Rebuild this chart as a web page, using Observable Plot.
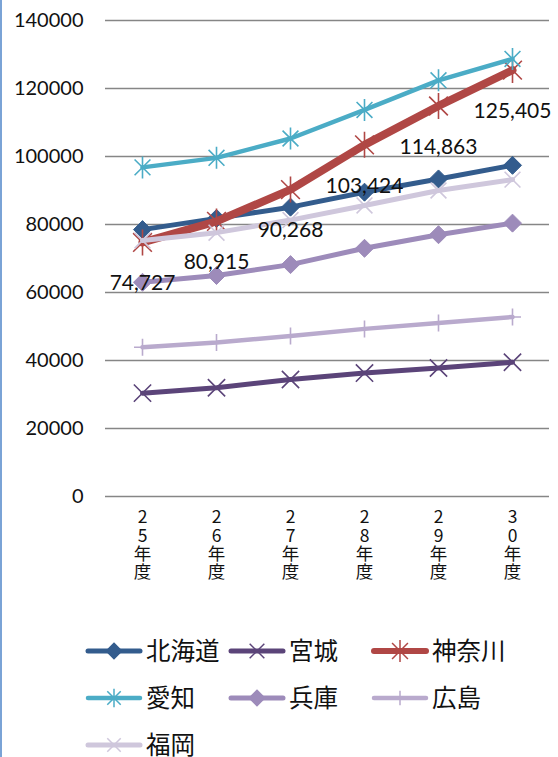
<!DOCTYPE html>
<html><head><meta charset="utf-8">
<script src="https://cdn.jsdelivr.net/npm/d3@7"></script>
<script src="https://cdn.jsdelivr.net/npm/@observablehq/plot@0.6"></script>
<style>
html,body{margin:0;padding:0;background:#fff;}
body{width:558px;height:757px;position:relative;overflow:hidden;}
#border{position:absolute;left:0;top:0;width:2px;height:757px;background:#7aa3d6;}
#chart{position:absolute;left:0;top:0;}
#legend{position:absolute;left:85px;top:627px;width:470px;display:flex;flex-wrap:wrap;}
.item{display:flex;align-items:center;width:143px;height:47px;}
.item svg{flex:none;}
.item span{font-family:"Noto Sans CJK JP";font-size:24.5px;color:#111;margin-left:3px;line-height:1;}
</style></head>
<body>
<div id="border"></div>
<div id="chart"></div>
<div id="legend"></div>
<script>
const categories = ["25年度","26年度","27年度","28年度","29年度","30年度"];
const seriesNames = ["北海道","宮城","神奈川","愛知","兵庫","広島","福岡"];
const hokkaido = [78500, 81800, 85100, 89500, 93400, 97400];
const miyagi   = [30400, 32000, 34400, 36300, 37800, 39500];
const kanagawa = [74727, 80915, 90268, 103424, 114863, 125405];
const aichi    = [96800, 99600, 105300, 113700, 122400, 128700];
const hyogo    = [63000, 65000, 68200, 73000, 77000, 80400];
const hiroshima= [43900, 45300, 47200, 49300, 51000, 52800];
const fukuoka  = [75300, 77600, 81300, 85600, 90000, 93200];
const seriesValues = [hokkaido, miyagi, kanagawa, aichi, hyogo, hiroshima, fukuoka];
const yTicks = [0, 20000, 40000, 60000, 80000, 100000, 120000, 140000];

// symbols (radius derived from size = PI r^2)
const rad = s => Math.sqrt(s / Math.PI);
const diamond = {draw(c, s){const r = rad(s); c.moveTo(0,-r); c.lineTo(r,0); c.lineTo(0,r); c.lineTo(-r,0); c.closePath();}};
const times = {draw(c, s){const r = rad(s)*0.72; c.moveTo(-r,-r); c.lineTo(r,r); c.moveTo(r,-r); c.lineTo(-r,r);}};
const star = {draw(c, s){const r = rad(s); const d = r*0.72; c.moveTo(-d,-d); c.lineTo(d,d); c.moveTo(d,-d); c.lineTo(-d,d); c.moveTo(0,-r); c.lineTo(0,r);}};
const plus = {draw(c, s){const r = rad(s); c.moveTo(0,-r); c.lineTo(0,r); c.moveTo(-r,0); c.lineTo(r,0);}};

const styles = [
  {color:"#335c8d", width:5,   sym:diamond, r:9,   fill:true},
  {color:"#5b4479", width:5,   sym:times,   r:12,  fill:false},
  {color:"#b04745", width:8,   sym:star,    r:13,  fill:false},
  {color:"#4bacc6", width:4.5, sym:star,    r:11,  fill:false},
  {color:"#9d8bba", width:5,   sym:diamond, r:9,   fill:true},
  {color:"#b9aacd", width:4.5, sym:plus,    r:8.5, fill:false},
  {color:"#cfc7dc", width:5,   sym:times,   r:11,  fill:false}
];

const rows = [];
seriesNames.forEach((name, i) => categories.forEach((cat, j) => rows.push({name, cat, value: seriesValues[i][j]})));

const marks = [
  Plot.gridY(yTicks, {stroke:"#868686", strokeOpacity:1, strokeWidth:1.6}),
  Plot.axisY(yTicks, {tickSize:0, tickPadding:22, fontSize:20, fontFamily:"Lato", fill:"#111", tickFormat: d3.format("d"), label:null}),
  Plot.axisX({tickSize:0, tickPadding:14, fontSize:17.5, fontFamily:"Noto Sans CJK JP", fill:"#111", lineHeight:1.04, tickFormat: d => d.split("").join("\n"), label:null})
];
seriesNames.forEach((name, i) => {
  const st = styles[i];
  const data = rows.filter(d => d.name === name);
  marks.push(Plot.line(data, {x:"cat", y:"value", stroke:st.color, strokeWidth:st.width, strokeLinejoin:"round", strokeLinecap:"round"}));
  marks.push(Plot.dot(data, {x:"cat", y:"value", symbol:st.sym, r:st.r,
    fill: st.fill ? st.color : "none", stroke: st.color, strokeWidth: st.fill ? 1 : 1.6}));
});
marks.push(Plot.text(rows.filter(d => d.name === "神奈川"), {x:"cat", y:"value", text: d => d3.format(",")(d.value), dy:41, fontSize:21, fontFamily:"Lato", fill:"#111"}));

const chart = Plot.plot({
  width:558, height:615,
  marginLeft:105, marginRight:9, marginTop:20, marginBottom:119,
  x:{type:"point", domain:categories, padding:0.5},
  y:{domain:[0,140000]},
  style:{background:"transparent", overflow:"visible"},
  marks
});
document.getElementById("chart").appendChild(chart);

// legend
const legend = d3.select("#legend");
seriesNames.forEach((name, i) => {
  const st = styles[i];
  const item = legend.append("div").attr("class","item");
  const svg = item.append("svg").attr("width",58).attr("height",24);
  svg.append("line").attr("x1",3).attr("x2",55).attr("y1",12).attr("y2",12)
    .attr("stroke",st.color).attr("stroke-width",Math.min(st.width,6)).attr("stroke-linecap","round");
  const ctx = d3.path();
  st.sym.draw(ctx, Math.PI * st.r * st.r * 0.72);
  svg.append("path").attr("transform","translate(29,12)").attr("d", ctx.toString())
    .attr("fill", st.fill ? st.color : "none").attr("stroke", st.color).attr("stroke-width",1.5);
  item.append("span").text(name);
});
</script>
</body></html>
